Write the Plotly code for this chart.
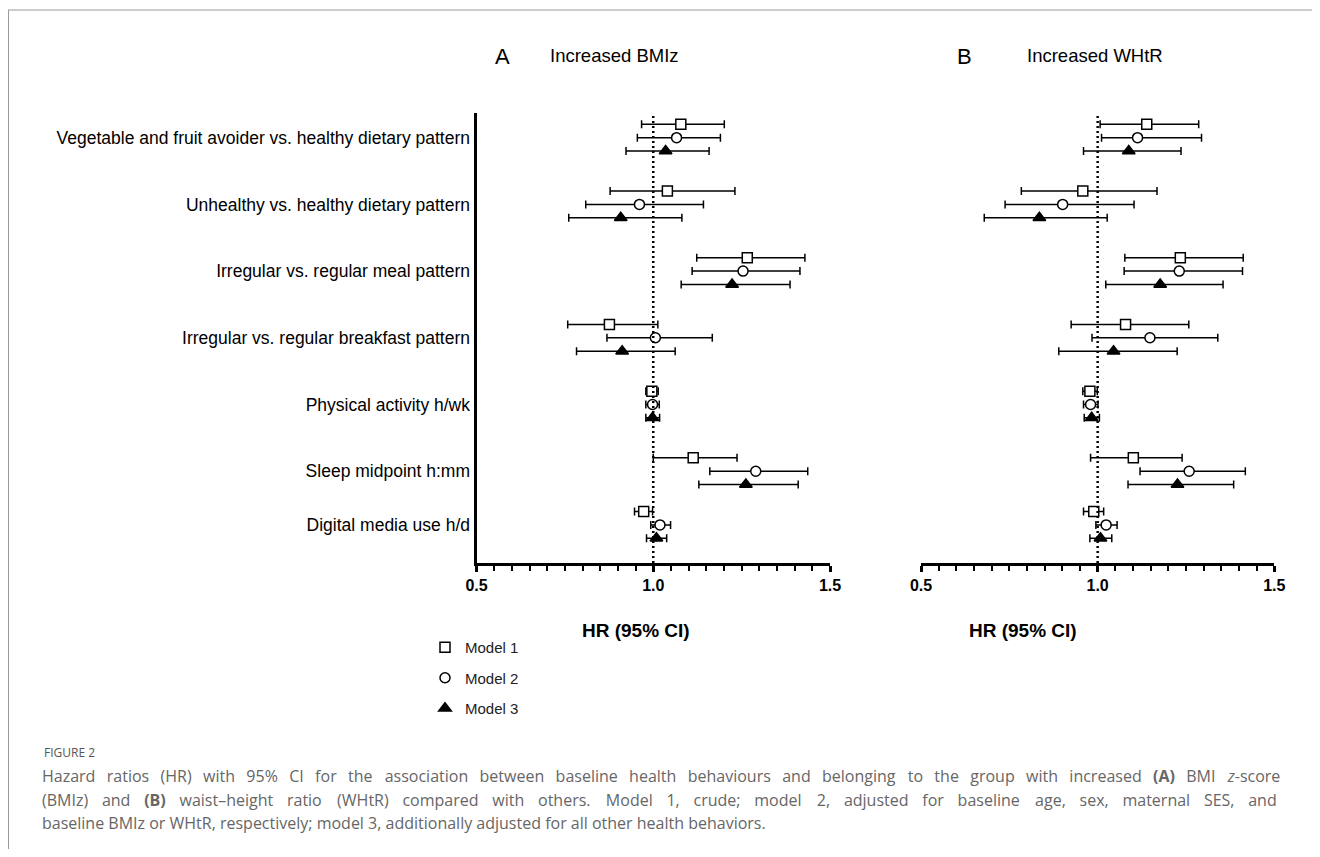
import plotly.graph_objects as go
import re

# ---------------- data ----------------
categories = [
    "Vegetable and fruit avoider vs. healthy dietary pattern",
    "Unhealthy vs. healthy dietary pattern",
    "Irregular vs. regular meal pattern",
    "Irregular vs. regular breakfast pattern",
    "Physical activity h/wk",
    "Sleep midpoint h:mm",
    "Digital media use h/d",
]
models = ["Model 1", "Model 2", "Model 3"]

# Panel A: Increased BMIz
a_m1_hr = [1.078, 1.040, 1.266, 0.876, 0.996, 1.113, 0.973]
a_m1_lo = [0.967, 0.878, 1.123, 0.758, 0.979, 1.000, 0.947]
a_m1_hi = [1.201, 1.231, 1.429, 1.013, 1.014, 1.237, 0.998]
a_m2_hr = [1.066, 0.961, 1.254, 1.006, 0.998, 1.290, 1.019]
a_m2_lo = [0.955, 0.809, 1.110, 0.869, 0.979, 1.160, 0.993]
a_m2_hi = [1.190, 1.142, 1.415, 1.167, 1.017, 1.437, 1.049]
a_m3_hr = [1.035, 0.908, 1.223, 0.912, 0.998, 1.262, 1.009]
a_m3_lo = [0.923, 0.761, 1.079, 0.783, 0.979, 1.129, 0.981]
a_m3_hi = [1.158, 1.081, 1.387, 1.062, 1.018, 1.410, 1.038]

# Panel B: Increased WHtR
b_m1_hr = [1.139, 0.958, 1.234, 1.079, 0.978, 1.101, 0.989]
b_m1_lo = [1.007, 0.784, 1.077, 0.925, 0.958, 0.980, 0.960]
b_m1_hi = [1.286, 1.168, 1.412, 1.258, 0.999, 1.239, 1.017]
b_m2_hr = [1.113, 0.901, 1.231, 1.148, 0.980, 1.259, 1.024]
b_m2_lo = [1.011, 0.738, 1.075, 0.984, 0.960, 1.120, 0.995]
b_m2_hi = [1.294, 1.103, 1.410, 1.340, 1.001, 1.418, 1.055]
b_m3_hr = [1.088, 0.835, 1.177, 1.045, 0.983, 1.226, 1.008]
b_m3_lo = [0.960, 0.679, 1.023, 0.890, 0.962, 1.086, 0.978]
b_m3_hi = [1.236, 1.027, 1.355, 1.225, 1.005, 1.385, 1.040]

x_ticks = [0.5, 1.0, 1.5]
NULL_HR = 1.0

caption_label = "FIGURE 2"
cap_lines = [
    "Hazard ratios (HR) with 95% CI for the association between baseline health behaviours and belonging to the group with increased <b>(A)</b> BMI <i>z</i>-score",
    "(BMIz) and <b>(B)</b> waist–height ratio (WHtR) compared with others. Model 1, crude; model 2, adjusted for baseline age, sex, maternal SES, and",
    "baseline BMIz or WHtR, respectively; model 3, additionally adjusted for all other health behaviors.",
]
cap_justify = [True, True, False]

# ---------------- layout helpers ----------------
PAGE_OFF = 8            # default body margin of the html page
W, H = 1320 - PAGE_OFF, 857 - 2 * PAGE_OFF
row_pos = [0, 1, 2, 3, 4, 5, 5.805]
model_offset = [-0.2, 0.0, 0.2]
symbols = ["square", "circle", "triangle-up"]
fills = ["white", "white", "black"]
sizes = [10, 10, 11]

FONT = "Arial, Liberation Sans, sans-serif"
CAP = "Open Sans, Noto Sans, sans-serif"
CAP_SIZE = 16


def px(p):
    return (p - PAGE_OFF) / W


def py(p):
    return 1 - (p - PAGE_OFF) / H


# approximate Open Sans advance widths (units of 1/2048 em) for justification
_OS = {" ": 532, "a": 1139, "b": 1255, "c": 975, "d": 1255, "e": 1149, "f": 694, "g": 1122, "h": 1257,
       "i": 518, "j": 518, "k": 1075, "l": 518, "m": 1905, "n": 1257, "o": 1237, "p": 1255, "q": 1255,
       "r": 836, "s": 977, "t": 723, "u": 1257, "v": 1026, "w": 1593, "x": 1073, "y": 1028, "z": 977,
       "A": 1296, "B": 1327, "C": 1292, "D": 1493, "E": 1124, "H": 1511, "I": 571, "M": 1849, "R": 1319,
       "S": 1118, "T": 1139, "W": 1915, "(": 604, ")": 604, "%": 1704, ";": 549, ",": 498, ".": 545,
       "–": 1024, "-": 659, ":": 545}


def text_width(s, size):
    total = 0.0
    bold = False
    for tok in re.split(r"(<[^>]+>)", s):
        if tok.startswith("<"):
            if tok == "<b>":
                bold = True
            elif tok == "</b>":
                bold = False
            continue
        for ch in tok:
            w = 1171 if ch.isdigit() else _OS.get(ch, 1150)
            total += w * (1.07 if bold else 1.0)
    return total / 2048 * size


def justify(s, size, target):
    words = s.split(" ")
    gaps = len(words) - 1
    extra = (target - text_width(s, size)) / gaps
    em = size
    units = [("\u2002", em / 2), ("\u2005", em / 4), ("\u200a", em / 12)]
    out = words[0]
    carry = 0.0
    for w in words[1:]:
        want = extra + carry
        fill = ""
        got = 0.0
        for ch, cw in units:
            n = int((want - got) // cw) if want - got > 0 else 0
            fill += ch * n
            got += n * cw
        carry = want - got
        out += " " + fill + w
    return out


panels = {
    "A": dict(hr=[a_m1_hr, a_m2_hr, a_m3_hr], lo=[a_m1_lo, a_m2_lo, a_m3_lo], hi=[a_m1_hi, a_m2_hi, a_m3_hi],
              xa="x", ya="y"),
    "B": dict(hr=[b_m1_hr, b_m2_hr, b_m3_hr], lo=[b_m1_lo, b_m2_lo, b_m3_lo], hi=[b_m1_hi, b_m2_hi, b_m3_hi],
              xa="x2", ya="y2"),
}

fig = go.Figure()
for pname, p in panels.items():
    for m in range(3):
        hr = p["hr"][m]
        lo = p["lo"][m]
        hi = p["hi"][m]
        ys = [r + model_offset[m] for r in row_pos]
        fig.add_trace(go.Scatter(
            x=hr, y=ys, mode="markers", xaxis=p["xa"], yaxis=p["ya"],
            name=models[m], legendgroup=models[m], showlegend=(pname == "A"),
            marker=dict(symbol=symbols[m], size=sizes[m], color=fills[m],
                        line=dict(color="black", width=1.5)),
            error_x=dict(type="data", symmetric=False,
                         array=[h - c for h, c in zip(hi, hr)],
                         arrayminus=[c - l for c, l in zip(hr, lo)],
                         color="black", thickness=1.5, width=4),
        ))

y_bot, y_top = 563, 113
y_range = [6.376, -0.37]
dom_y = [py(y_bot), py(y_top)]

xaxis_common = dict(
    range=[0.5, 1.5], tickvals=x_ticks, ticktext=[f"{v:.1f}" for v in x_ticks],
    showline=True, linecolor="black", linewidth=3, ticks="outside", ticklen=6, tickwidth=2.5,
    tickcolor="black", showgrid=False, zeroline=False,
    tickfont=dict(family=FONT, size=16, color="black", weight="bold"),
    minor=dict(dtick=0.05, tick0=0.5, ticks="outside", ticklen=5, tickwidth=2, tickcolor="black", showgrid=False),
    fixedrange=True,
)

fig.update_layout(
    width=W, height=H, margin=dict(l=0, r=0, t=0, b=0, autoexpand=False),
    paper_bgcolor="white", plot_bgcolor="white",
    font=dict(family=FONT, color="black"),
    xaxis=dict(domain=[px(476.5), px(830)], anchor="y", **xaxis_common),
    xaxis2=dict(domain=[px(921), px(1274.3)], anchor="y2", **xaxis_common),
    yaxis=dict(domain=dom_y, range=y_range, anchor="x", showline=True, linecolor="black", linewidth=3,
               tickvals=row_pos, ticktext=categories, ticks="", showgrid=False, zeroline=False,
               tickfont=dict(family=FONT, size=17.5, color="black"), fixedrange=True),
    yaxis2=dict(domain=dom_y, range=y_range, anchor="x2", showline=False, showticklabels=False,
                ticks="", showgrid=False, zeroline=False, fixedrange=True),
    showlegend=True,
    legend=dict(x=px(425), y=py(631), xanchor="left", yanchor="top", tracegroupgap=8,
                font=dict(family=FONT, size=15, color="#222"), bgcolor="rgba(0,0,0,0)"),
)

shapes = []
for xr in ["x", "x2"]:
    shapes.append(dict(type="line", xref=xr, yref="paper", x0=NULL_HR, x1=NULL_HR,
                       y0=py(y_bot), y1=py(115), line=dict(color="black", width=2.5, dash="2px,3px")))
# figure frame
shapes.append(dict(type="line", xref="paper", yref="paper", x0=0, x1=1, y0=py(10), y1=py(10),
                   line=dict(color="#999", width=1)))
shapes.append(dict(type="line", xref="paper", yref="paper", x0=0.0004, x1=0.0004, y0=py(10), y1=0,
                   line=dict(color="#999", width=1)))
fig.update_layout(shapes=shapes)

ann = []
# panel headers
ann.append(dict(x=px(502.5), y=py(56.5), text="A", font=dict(size=22, family=FONT)))
ann.append(dict(x=px(548), y=py(56), text="Increased BMIz", xanchor="left", font=dict(size=18.5, family=FONT)))
ann.append(dict(x=px(974), y=py(56.5), text="B", font=dict(size=22, family=FONT)))
ann.append(dict(x=px(1025), y=py(56), text="Increased WHtR", xanchor="left", font=dict(size=18.5, family=FONT)))
# axis titles
ann.append(dict(x=px(635.7), y=py(630), text="<b>HR (95% CI)</b>", font=dict(size=19, family=FONT)))
ann.append(dict(x=px(1078.5), y=py(630), text="<b>HR (95% CI)</b>", font=dict(size=19, family=FONT)))
# caption
CAP_LEFT, CAP_RIGHT = 42, 1271
ann.append(dict(x=px(CAP_LEFT), y=py(752), xanchor="left", text=caption_label,
                font=dict(size=12, family=CAP, color="#555")))
for i, line in enumerate(cap_lines):
    txt = justify(line, CAP_SIZE, CAP_RIGHT - CAP_LEFT) if cap_justify[i] else line
    ann.append(dict(x=px(CAP_LEFT - 2), y=py(776 + 23.7 * i), xanchor="left", text=txt,
                    font=dict(size=CAP_SIZE, family=CAP, color="#666")))
for a in ann:
    a.update(xref="paper", yref="paper", showarrow=False, yanchor="middle")
fig.update_layout(annotations=ann)

fig.write_html("out.html")
